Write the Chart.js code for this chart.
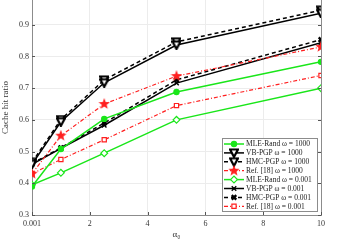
<!DOCTYPE html>
<html>
<head>
<meta charset="utf-8">
<script src="https://cdn.jsdelivr.net/npm/chart.js@4.4.1/dist/chart.umd.min.js"></script>
<style>
  html, body { margin: 0; padding: 0; background: #fff; }
  #wrap { width: 357px; height: 246px; position: relative; }
</style>
</head>
<body>
<div id="wrap"><canvas id="hitChart"></canvas></div>
<script>
// x values (sigma_0) and cache hit ratios
const sigma0 = [0.001, 1, 2.5, 5, 10];
const xTicks = [0.001, 2, 4, 6, 8, 10];
const yTicks = [0.3, 0.4, 0.5, 0.6, 0.7, 0.8, 0.9];

const mleRand1000 = [0.390, 0.508, 0.603, 0.688, 0.783];
const vbPgp1000   = [0.460, 0.594, 0.717, 0.836, 0.936];
const hmcPgp1000  = [0.466, 0.601, 0.726, 0.846, 0.946];
const ref18_1000  = [0.430, 0.550, 0.650, 0.738, 0.830];
const mleRand0001 = [0.395, 0.433, 0.495, 0.600, 0.700];
const vbPgp0001   = [0.460, 0.510, 0.583, 0.716, 0.843];
const hmcPgp0001  = [0.462, 0.512, 0.590, 0.726, 0.853];
const ref18_0001  = [0.430, 0.475, 0.537, 0.645, 0.740];

const GREEN = '#19e619';
const RED = '#ff1f1f';
const BLACK = '#000000';
const FONT = '"Liberation Serif", "DejaVu Serif", serif';

// custom markers
function makeStar(size, color) {
  const c = document.createElement('canvas');
  c.width = size; c.height = size;
  const g = c.getContext('2d');
  const cx = size / 2, cy = size / 2, R = size / 2, r = R * 0.42;
  g.beginPath();
  for (let i = 0; i < 10; i++) {
    const a = -Math.PI / 2 + i * Math.PI / 5;
    const rad = i % 2 === 0 ? R : r;
    g.lineTo(cx + rad * Math.cos(a), cy + rad * Math.sin(a));
  }
  g.closePath();
  g.fillStyle = color;
  g.fill();
  return c;
}

function makeDownTri(size) {
  const c = document.createElement('canvas');
  c.width = size; c.height = size;
  const g = c.getContext('2d');
  g.beginPath();
  g.moveTo(1, 1.5);
  g.lineTo(size - 1, 1.5);
  g.lineTo(size / 2, size - 1);
  g.closePath();
  g.fillStyle = '#fff';
  g.fill();
  g.lineWidth = 2.2;
  g.strokeStyle = '#000';
  g.stroke();
  return c;
}

const starMark = makeStar(12, RED);
const triMark = makeDownTri(10);

function series(label, data, color, opts) {
  return Object.assign({
    label: label,
    data: data.map((v, i) => ({ x: sigma0[i], y: v })),
    borderColor: color,
    backgroundColor: color,
    pointBorderColor: color,
    borderWidth: 1.5,
    pointRadius: 3,
    pointBorderWidth: 1.2,
    tension: 0,
    fill: false
  }, opts);
}

const datasets = [
  series('MLE-Rand \u03c9 = 1000', mleRand1000, GREEN, { pointStyle: 'circle', pointRadius: 2.6, pointBackgroundColor: GREEN }),
  series('VB-PGP \u03c9 = 1000', vbPgp1000, BLACK, { pointStyle: triMark }),
  series('HMC-PGP \u03c9 = 1000', hmcPgp1000, BLACK, { pointStyle: triMark, borderDash: [4, 3] }),
  series('Ref. [18] \u03c9 = 1000', ref18_1000, RED, { pointStyle: starMark, borderWidth: 1.2, borderDash: [4, 2, 1, 2] }),
  series('MLE-Rand \u03c9 = 0.001', mleRand0001, GREEN, { pointStyle: 'rectRot', pointRadius: 3.4, pointBackgroundColor: '#fff' }),
  series('VB-PGP \u03c9 = 0.001', vbPgp0001, BLACK, { pointStyle: 'crossRot', pointRadius: 3.2, pointBorderWidth: 1.4 }),
  series('HMC-PGP \u03c9 = 0.001', hmcPgp0001, BLACK, { pointStyle: 'crossRot', pointRadius: 3.2, pointBorderWidth: 2.4, borderDash: [4, 3] }),
  series('Ref. [18] \u03c9 = 0.001', ref18_0001, RED, { pointStyle: 'rect', pointRadius: 3, pointBackgroundColor: '#fff', borderWidth: 1.2, borderDash: [4, 2, 1, 2] })
];

// box on the right side, inner tick marks, and the legend inside the plot
const framePlugin = {
  id: 'frame',
  afterDraw(chart) {
    const ctx = chart.ctx;
    const a = chart.chartArea;
    const xs = chart.scales.x, ys = chart.scales.y;
    ctx.save();
    ctx.strokeStyle = '#8c8c8c';
    ctx.lineWidth = 1;
    ctx.beginPath();
    ctx.moveTo(a.right + 0.5, a.top);
    ctx.lineTo(a.right + 0.5, a.bottom);
    ctx.stroke();
    ctx.strokeStyle = '#555';
    ctx.beginPath();
    yTicks.forEach(v => {
      const y = Math.round(ys.getPixelForValue(v)) + 0.5;
      ctx.moveTo(a.left, y); ctx.lineTo(a.left + 3, y);
      ctx.moveTo(a.right, y); ctx.lineTo(a.right - 3, y);
    });
    xTicks.forEach(v => {
      const x = Math.round(xs.getPixelForValue(v)) + 0.5;
      ctx.moveTo(x, a.bottom); ctx.lineTo(x, a.bottom - 3);
    });
    ctx.stroke();

    // legend
    const bx = 222, by = 138.5, bw = 95, bh = 73;
    ctx.fillStyle = '#fff';
    ctx.fillRect(bx, by, bw, bh);
    ctx.strokeStyle = '#8c8c8c';
    ctx.lineWidth = 1;
    ctx.strokeRect(bx + 0.5, by, bw, bh);
    ctx.font = '7.5px ' + FONT;
    ctx.textBaseline = 'middle';
    chart.data.datasets.forEach((ds, i) => {
      const y = 144 + i * 8.9;
      ctx.strokeStyle = ds.borderColor;
      ctx.lineWidth = ds.borderWidth;
      ctx.setLineDash(ds.borderDash || []);
      ctx.beginPath();
      ctx.moveTo(224, y); ctx.lineTo(244, y);
      ctx.stroke();
      ctx.setLineDash([]);
      ctx.fillStyle = ds.pointBackgroundColor || ds.backgroundColor;
      ctx.strokeStyle = ds.pointBorderColor;
      ctx.lineWidth = ds.pointBorderWidth;
      Chart.helpers.drawPoint(ctx, {
        pointStyle: ds.pointStyle, radius: ds.pointRadius,
        rotation: 0, borderWidth: ds.pointBorderWidth
      }, 234, y);
      ctx.fillStyle = '#222';
      ctx.fillText(ds.label, 246, y + 0.5);
    });
    ctx.restore();
  }
};

const chartConfig = {
  type: 'line',
  data: { datasets: datasets },
  options: {
    responsive: true,
    maintainAspectRatio: false,
    animation: false,
    layout: { autoPadding: false, padding: { left: 0, right: 36, top: 0, bottom: 0 } },
    plugins: { legend: { display: false }, tooltip: { enabled: false } },
    scales: {
      x: {
        type: 'linear',
        min: 0.001,
        max: 10,
        afterBuildTicks: s => { s.ticks = xTicks.map(v => ({ value: v })); },
        afterFit: s => { s.height = 31; },
        grid: { color: '#ececec', drawTicks: false },
        border: { color: '#8c8c8c' },
        ticks: {
          color: '#333',
          font: { family: FONT, size: 8 },
          padding: 4,
          maxRotation: 0,
          callback: v => (v === 0.001 ? '0.001' : String(v))
        },
        title: {
          display: true,
          text: '\u03b1\u2080',
          color: '#333',
          font: { family: FONT, size: 9 },
          padding: { top: 0, bottom: 6 }
        }
      },
      y: {
        min: 0.3,
        max: 0.978,
        afterBuildTicks: s => { s.ticks = yTicks.map(v => ({ value: v })); },
        afterFit: s => { s.width = 32; s.paddingTop = 0; s.paddingBottom = 0; },
        grid: { color: '#ececec', drawTicks: false },
        border: { color: '#8c8c8c' },
        ticks: {
          color: '#333',
          font: { family: FONT, size: 8 },
          padding: 3,
          callback: v => v.toFixed(1)
        },
        title: {
          display: true,
          text: 'Cache hit ratio',
          color: '#333',
          font: { family: FONT, size: 9 },
          padding: { top: 0, bottom: 2 }
        }
      }
    }
  },
  plugins: [framePlugin]
};

const ctx = document.getElementById('hitChart').getContext('2d');
new Chart(ctx, chartConfig);
</script>
</body>
</html>
